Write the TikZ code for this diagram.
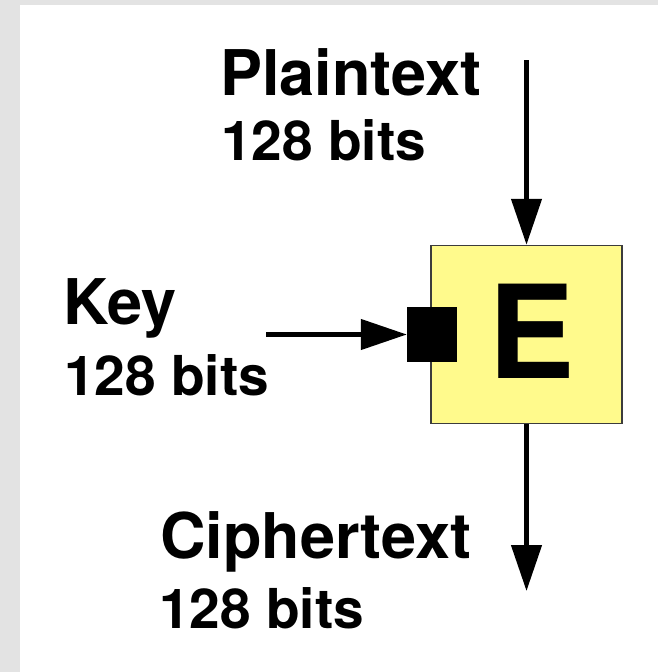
\documentclass[tikz,border=0pt]{standalone}
\usepackage{fontspec}
\setmainfont{TeX Gyre Heros}
\usetikzlibrary{arrows.meta}
\definecolor{bggray}{RGB}{227,227,227}
\definecolor{boxyellow}{RGB}{255,250,140}
\definecolor{boxedge}{RGB}{60,60,60}
\tikzset{
  titlelabel/.style={anchor=base west, inner sep=0pt, font=\fontsize{63}{70}\selectfont\bfseries},
  sublabel/.style={anchor=base west, inner sep=0pt, font=\fontsize{55}{62}\selectfont\bfseries},
  arr/.style={line width=4.5pt, -{Triangle[length=46pt,width=30pt]}},
  encbox/.style={draw=boxedge, line width=1.5pt, fill=boxyellow, minimum width=191pt, minimum height=178pt, inner sep=0pt},
  keyport/.style={fill=black, minimum width=50pt, minimum height=55pt, inner sep=0pt}
}
\begin{document}
\begin{tikzpicture}[x=1pt,y=-1pt]
\useasboundingbox (0,0) rectangle (658,672);
\fill[bggray] (0,0) rectangle (658,672);
\fill[white] (20,5) rectangle (658,672);
% encryption box
\node[encbox] (box) at (526.5,334.5) {};
\node[keyport] (port) at (432,334.5) {};
\node[anchor=base west, inner sep=0pt, font=\fontsize{129.5}{140}\selectfont\bfseries] (E) at (488,378) {E};
% labels
\node[titlelabel] (pt) at (220,95) {Plaintext};
\node[sublabel] (ptb) at (221,160) {128 bits};
\node[titlelabel] (key) at (63.5,324) {Key};
\node[sublabel] (keyb) at (64,395) {128 bits};
\node[titlelabel] (ct) at (160,558) {Ciphertext};
\node[sublabel] (ctb) at (159,628) {128 bits};
% arrows
\coordinate (ptstart) at (526.5,60);
\coordinate (keystart) at (266,334.5);
\coordinate (ctend) at (526.5,591);
\draw[arr] (ptstart) -- (box.north);
\draw[arr] (keystart) -- (port.west);
\draw[arr] (box.south) -- (ctend);
\end{tikzpicture}
\end{document}
